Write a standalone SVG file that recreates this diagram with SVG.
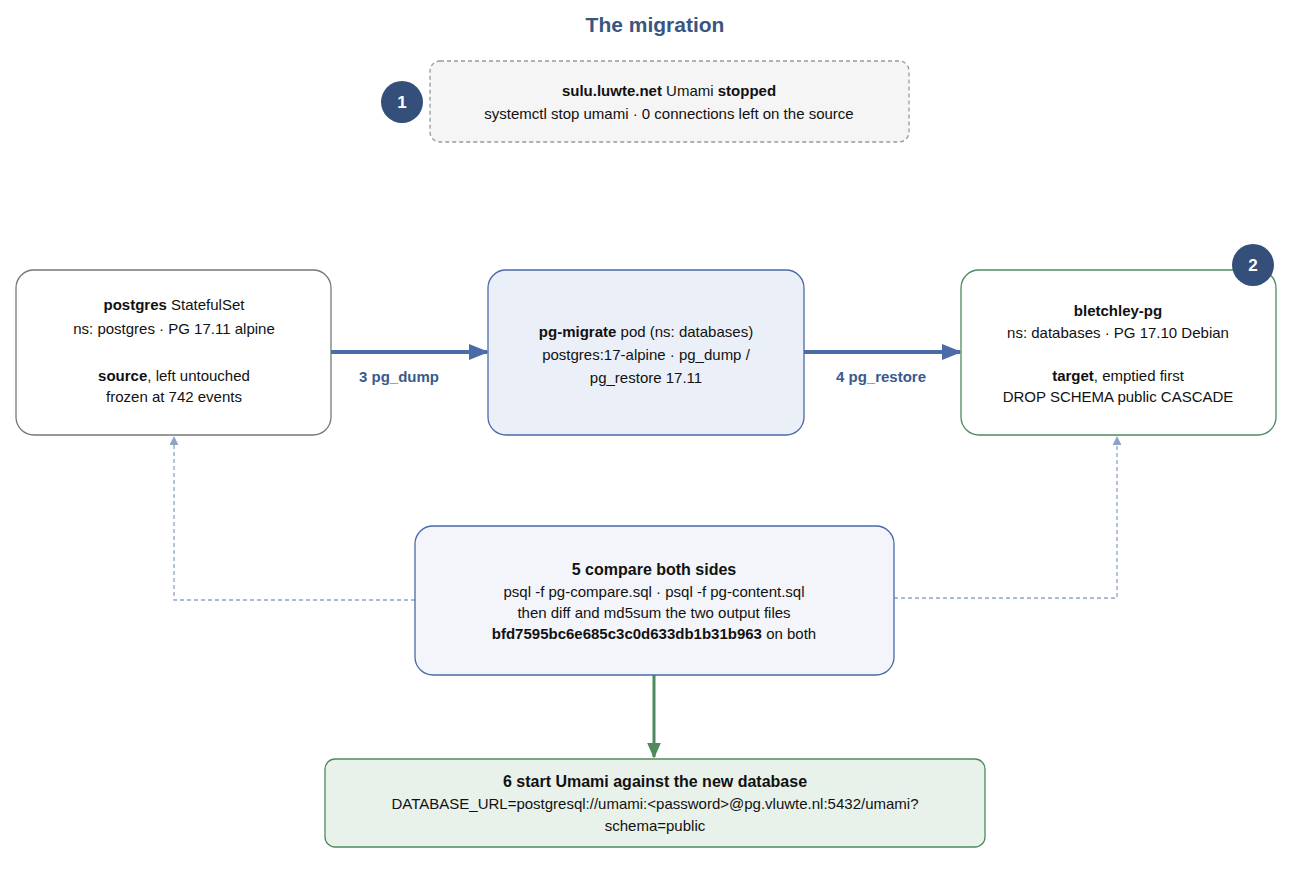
<svg xmlns="http://www.w3.org/2000/svg" width="1290" height="870" viewBox="0 0 1290 870">
<defs>
<style>
text{font-family:"Liberation Sans",Arial,sans-serif;font-size:15px;fill:#111;text-anchor:middle}
.b{font-weight:bold}
.t{font-size:21px;font-weight:bold;fill:#3a5580}
.lbl{font-weight:bold;fill:#3a5a8c}
.badge{fill:#34507a}
.bt{fill:#fff;font-size:17px;font-weight:bold}
</style>
<marker id="ab" viewBox="0 0 10 10" refX="9" refY="5" markerWidth="6" markerHeight="6" markerUnits="userSpaceOnUse" orient="auto"><path d="M0,0L10,5L0,10z" fill="#4a6aa8"/></marker>
<marker id="abig" viewBox="0 0 10 10" refX="9" refY="5" markerWidth="20" markerHeight="16" markerUnits="userSpaceOnUse" orient="auto" preserveAspectRatio="none"><path d="M0,0L10,5L0,10z" fill="#4a6aa8"/></marker>
<marker id="ad" viewBox="0 0 10 10" refX="9" refY="5" markerWidth="9" markerHeight="9" markerUnits="userSpaceOnUse" orient="auto"><path d="M0,0L10,5L0,10z" fill="#8ea3c6"/></marker>
<marker id="ag" viewBox="0 0 10 10" refX="9" refY="5" markerWidth="16" markerHeight="14" markerUnits="userSpaceOnUse" orient="auto" preserveAspectRatio="none"><path d="M0,0L10,5L0,10z" fill="#4f8a5e"/></marker>
</defs>
<rect width="1290" height="870" fill="#fff"/>
<text x="655" y="32" class="t">The migration</text>
<g id="connectors">
<line x1="331" y1="352" x2="487" y2="352" stroke="#4a6aa8" stroke-width="4" marker-end="url(#abig)"/>
<line x1="804" y1="352" x2="960" y2="352" stroke="#4a6aa8" stroke-width="4" marker-end="url(#abig)"/>
<polyline points="415,600 174,600 174,437" fill="none" stroke="#8ea3c6" stroke-width="1.3" stroke-dasharray="4,3" marker-end="url(#ad)"/>
<polyline points="894,598 1117,598 1117,437" fill="none" stroke="#8ea3c6" stroke-width="1.3" stroke-dasharray="4,3" marker-end="url(#ad)"/>
<line x1="654" y1="675" x2="654" y2="757" stroke="#4f8a5e" stroke-width="3" marker-end="url(#ag)"/>
<text x="399" y="382" class="lbl">3  pg_dump</text>
<text x="881" y="382" class="lbl">4  pg_restore</text>
</g>
<g id="n1">
<rect x="430" y="61" width="479" height="81" rx="10" fill="#f5f5f5" stroke="#999" stroke-width="1.3" stroke-dasharray="4,3"/>
<text x="669" y="96"><tspan class="b">sulu.luwte.net</tspan>  Umami <tspan class="b">stopped</tspan></text>
<text x="669" y="119">systemctl stop umami · 0 connections left on the source</text>
</g>
<g id="badge1"><circle cx="402" cy="102" r="21" class="badge"/><text x="402" y="108" class="bt">1</text></g>
<g id="src">
<rect x="16" y="270" width="315" height="165" rx="18" fill="#fff" stroke="#777" stroke-width="1.3"/>
<text x="174" y="310"><tspan class="b">postgres</tspan> StatefulSet</text>
<text x="174" y="334">ns: postgres · PG 17.11 alpine</text>
<text x="174" y="381"><tspan class="b">source</tspan>, left untouched</text>
<text x="174" y="402">frozen at 742 events</text>
</g>
<g id="mig">
<rect x="488" y="270" width="316" height="165" rx="18" fill="#ebf0f8" stroke="#4a6aa8" stroke-width="1.3"/>
<text x="646" y="337"><tspan class="b">pg-migrate</tspan> pod  (ns: databases)</text>
<text x="646" y="360">postgres:17-alpine · pg_dump /</text>
<text x="646" y="383">pg_restore 17.11</text>
</g>
<g id="tgt">
<rect x="961" y="270" width="315" height="165" rx="18" fill="#fff" stroke="#4f8a5e" stroke-width="1.3"/>
<text x="1118" y="316" class="b">bletchley-pg</text>
<text x="1118" y="338">ns: databases · PG 17.10 Debian</text>
<text x="1118" y="381"><tspan class="b">target</tspan>, emptied first</text>
<text x="1118" y="402">DROP SCHEMA public CASCADE</text>
</g>
<g id="badge2"><circle cx="1253" cy="265" r="21" class="badge"/><text x="1253" y="271" class="bt">2</text></g>
<g id="cmp">
<rect x="415" y="526" width="479" height="149" rx="18" fill="#f3f5fa" stroke="#4a6aa8" stroke-width="1.3"/>
<text x="654" y="575" class="b" style="font-size:16px">5  compare both sides</text>
<text x="654" y="597">psql -f pg-compare.sql · psql -f pg-content.sql</text>
<text x="654" y="618">then diff and md5sum the two output files</text>
<text x="654" y="639"><tspan class="b">bfd7595bc6e685c3c0d633db1b31b963</tspan> on both</text>
</g>
<g id="start">
<rect x="325" y="759" width="660" height="88" rx="10" fill="#e8f2ea" stroke="#4f8a5e" stroke-width="1.3"/>
<text x="655" y="787" class="b" style="font-size:16px">6  start Umami against the new database</text>
<text x="655" y="809">DATABASE_URL=postgresql://umami:&lt;password&gt;@pg.vluwte.nl:5432/umami?</text>
<text x="655" y="831">schema=public</text>
</g>
</svg>
